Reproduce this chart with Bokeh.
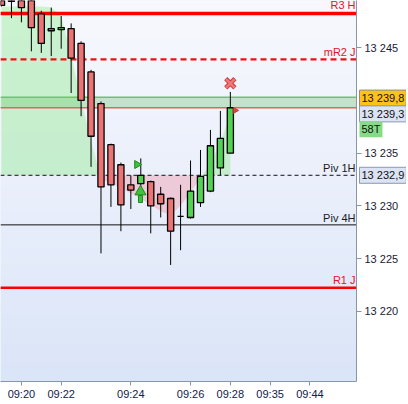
import numpy as np
from bokeh.plotting import figure
from bokeh.layouts import row
from bokeh.models import Range1d, FixedTicker, Label
from bokeh.embed import file_html
from bokeh.resources import INLINE

# ---------------- data ----------------
bar_idx = list(range(24))
opens  = [13250.6, 13250.5, 13250.2, 13250.0, 13248.2, 13246.8, 13246.7, 13246.8,
          13245.4, 13242.7, 13239.7, 13235.8, 13233.9, 13232.0, 13232.1, 13232.3,
          13231.1, 13230.7, 13229.0, 13228.9, 13230.3, 13231.4, 13233.6, 13235.0]
highs  = [13251.2, 13251.0, 13250.8, 13250.5, 13248.5, 13248.8, 13248.0, 13247.3,
          13245.6, 13242.9, 13239.9, 13235.9, 13234.1, 13232.9, 13234.5, 13232.4,
          13231.8, 13230.8, 13232.0, 13234.3, 13235.3, 13237.2, 13239.0, 13240.8]
lows   = [13248.9, 13247.8, 13247.4, 13244.65, 13244.5, 13244.2, 13244.9, 13240.7,
          13238.5, 13233.7, 13225.5, 13229.9, 13227.6, 13229.7, 13231.7, 13227.4,
          13228.9, 13224.4, 13225.8, 13228.8, 13229.9, 13231.3, 13232.9, 13235.0]
closes = [13249.0, 13249.4, 13248.8, 13246.9, 13245.4, 13246.6, 13246.9, 13244.0,
          13240.0, 13236.6, 13231.8, 13232.0, 13230.1, 13231.5, 13232.9, 13230.0,
          13230.2, 13227.6, 13229.0, 13231.4, 13232.8, 13235.7, 13236.4, 13239.3]

# boundary of the shaded area drawn against the "Piv 1H" level
area_level = [13248.9, 13248.9, 13248.9, 13248.9, 13248.9, 13248.8, 13248.0, 13244.3,
              13240.0, 13236.2, 13232.5, 13232.2, 13231.7, 13231.2, 13230.7, 13230.1,
              13229.5, 13229.1, 13230.0, 13231.3, 13232.65, 13234.0, 13236.05, 13238.6]

level_names  = ["R3 H", "mR2 J", "Piv 1H", "Piv 4H", "R1 J"]
level_values = [13248.24, 13243.89, 13232.9, 13228.2, 13222.24]
level_colors = ["#ff0000", "#ee1111", "#111111", "#111111", "#ff0000"]
level_text_colors = ["#e8102a", "#e8102a", "#1a1a1a", "#1a1a1a", "#e8102a"]
level_widths = [3.5, 2.2, 1, 1, 2.6]
level_dashes = ["solid", "6 4", "4 3", "solid", "solid"]

band_top = 13240.3
last_price = 13239.3
ask_price = 13239.8
pivot = 13232.9

x_tick_pos = [2, 6, 13, 19, 23, 27, 31]
x_tick_lbl = ["09:20", "09:22", "09:24", "09:26", "09:28", "09:35", "09:44"]
y_tick_pos = [13220, 13225, 13230, 13235, 13245]
y_tick_lbl = ["13 220", "13 225", "13 230", "13 235", "13 245"]

tag_text   = ["13 239,8", "13 239,3", "58T", "13 232,9"]
tag_price  = [ask_price, last_price, last_price, pivot]
tag_fill   = ["#ffc21a", "#dbe3f4", "#86dc86", "#dbe3f4"]
tag_border = ["#8a8a8a", "#8a9ab0", None, "#8a9ab0"]
tag_shift  = [4.4, -6.1, -21.6, 0.0]   # label displacement (px) to avoid overlap

green_flag = (13.62, 13233.92)
arrow_head = (13.97, 13231.35)
arrow_shaft = (13.97, 13230.65)
red_cross = (23.0, 13241.62)
red_flag = (23.47, 13239.05)

# ---------------- figure ----------------
x0, x1 = -0.10, 35.68
y0, y1 = 13213.35, 13249.47
FONT = "Liberation Sans"
W, H, RB, BB = 406, 402, 50, 20

p = figure(width=W, height=H, x_range=Range1d(x0, x1), y_range=Range1d(y0, y1),
           output_backend="svg", toolbar_location=None, y_axis_location="right",
           min_border_left=0, min_border_top=0, min_border_right=RB, min_border_bottom=BB)
p.grid.visible = False
p.outline_line_color = None
p.border_fill_color = "white"
p.background_fill_color = "#eaeffb"

# background gradient
ny = 120
top_c = np.array([248, 249, 254], dtype=float)
bot_c = np.array([219, 229, 248], dtype=float)
t = np.linspace(0, 1, ny)[:, None]
cols = bot_c + (top_c - bot_c) * t
img = np.zeros((ny, 1), dtype=np.uint32)
view = img.view(dtype=np.uint8).reshape((ny, 1, 4))
view[:, 0, 0:3] = cols.astype(np.uint8)
view[:, 0, 3] = 255
p.image_rgba(image=[img], x=x0, y=y0, dw=x1 - x0, dh=y1 - y0)

# shaded areas vs pivot
xs, ys = [], []
for k in range(len(bar_idx)):
    if k > 0:
        a, b = area_level[k - 1] - pivot, area_level[k] - pivot
        if a * b < 0:
            tt = a / (a - b)
            xs.append(bar_idx[k - 1] + tt * (bar_idx[k] - bar_idx[k - 1]))
            ys.append(pivot)
    xs.append(bar_idx[k])
    ys.append(area_level[k])
xs = np.array(xs, dtype=float)
ys = np.array(ys, dtype=float)
p.varea(x=xs, y1=np.full_like(ys, pivot), y2=np.maximum(ys, pivot),
        fill_color="#96eb96", fill_alpha=0.45)
p.varea(x=xs, y1=np.minimum(ys, pivot), y2=np.full_like(ys, pivot),
        fill_color="#f096a5", fill_alpha=0.42)

# green/red price band
p.varea(x=[x0, x1], y1=[last_price, last_price], y2=[band_top, band_top],
        fill_color="#78c878", fill_alpha=0.38)
p.line(x=[x0, x1], y=[band_top, band_top], line_color="#64c864", line_width=1.5)
p.line(x=[x0, x1], y=[last_price, last_price], line_color="#e86060", line_width=1.5)

# horizontal levels
for nm, v, c, tc, w, d in zip(level_names, level_values, level_colors,
                               level_text_colors, level_widths, level_dashes):
    p.line(x=[x0, x1], y=[v, v], line_color=c, line_width=w, line_dash=d)
    p.add_layout(Label(x=x1, y=v, text=nm, text_align="right", text_baseline="bottom",
                       x_offset=-1, y_offset=w / 2 + 0.5, text_color=tc,
                       text_font=FONT, text_font_size="11px"))

# candles
tops = [max(o, c) for o, c in zip(opens, closes)]
bots = [min(o, c) for o, c in zip(opens, closes)]
fills = ["#52d152" if c > o else "#ec7474" for o, c in zip(opens, closes)]
p.segment(x0=bar_idx, y0=lows, x1=bar_idx, y1=highs, line_color="black", line_width=1)
p.vbar(x=bar_idx, width=0.62, top=tops, bottom=bots, fill_color=fills,
       line_color="black", line_width=1.3)

# signals
p.scatter(x=[green_flag[0]], y=[green_flag[1]], marker="triangle", angle=-np.pi / 2,
          size=8, fill_color="#3cc23c", line_color="#1e8a1e")
p.rect(x=[arrow_shaft[0]], y=[arrow_shaft[1]], width=4, height=7, width_units="screen",
       height_units="screen", fill_color="#3cc23c", line_color="#1e8a1e")
p.scatter(x=[arrow_head[0]], y=[arrow_head[1]], marker="triangle", size=11,
          fill_color="#3cc23c", line_color="#1e8a1e")
p.scatter(x=[red_cross[0]], y=[red_cross[1]], marker="x", size=13, line_width=4.5,
          line_color="#c83c3c")
p.scatter(x=[red_cross[0]], y=[red_cross[1]], marker="x", size=12, line_width=2.5,
          line_color="#f07878")
p.scatter(x=[red_flag[0]], y=[red_flag[1]], marker="triangle", angle=-np.pi / 2,
          size=6, fill_color="#e04848", line_color="#c03030")

# axes
AX = "#8796a8"
for ax in (p.xaxis[0], p.yaxis[0]):
    ax.axis_line_color = AX
    ax.major_tick_line_color = AX
    ax.minor_tick_line_color = None
    ax.major_tick_in = 0
    ax.major_label_text_font = FONT
    ax.major_label_text_font_size = "11px"
p.xaxis[0].major_tick_out = 4
p.xaxis[0].major_label_standoff = 2
p.yaxis[0].major_tick_out = 5
p.yaxis[0].major_label_standoff = 3
p.xaxis[0].ticker = FixedTicker(ticks=x_tick_pos)
p.xaxis[0].major_label_overrides = {k: v for k, v in zip(x_tick_pos, x_tick_lbl)}
p.xaxis[0].major_label_text_color = "#10204a"
p.yaxis[0].ticker = FixedTicker(ticks=y_tick_pos)
p.yaxis[0].major_label_overrides = {k: v for k, v in zip(y_tick_pos, y_tick_lbl)}
p.yaxis[0].major_label_text_color = "#1a1a33"

# transparent overlay panel over the price axis, carrying the price tags
side = figure(width=RB, height=H, x_range=Range1d(0, RB), y_range=p.y_range,
              output_backend="svg", toolbar_location=None,
              x_axis_location=None, y_axis_location=None,
              min_border_left=0, min_border_right=0, min_border_top=0,
              min_border_bottom=BB, margin=(0, 0, 0, -RB))
side.grid.visible = False
side.outline_line_color = None
side.background_fill_color = None
side.border_fill_color = None
for txt, yv, fc, bc, sh in zip(tag_text, tag_price, tag_fill, tag_border, tag_shift):
    side.add_layout(Label(x=3, y=yv, y_offset=sh, text=txt,
                          text_align="left", text_baseline="middle", text_font=FONT,
                          text_font_size="11px", text_color="#111111",
                          background_fill_color=fc, border_line_color=bc,
                          padding=2))

layout = row(p, side)
open("out.html", "w").write(file_html(layout, INLINE))
